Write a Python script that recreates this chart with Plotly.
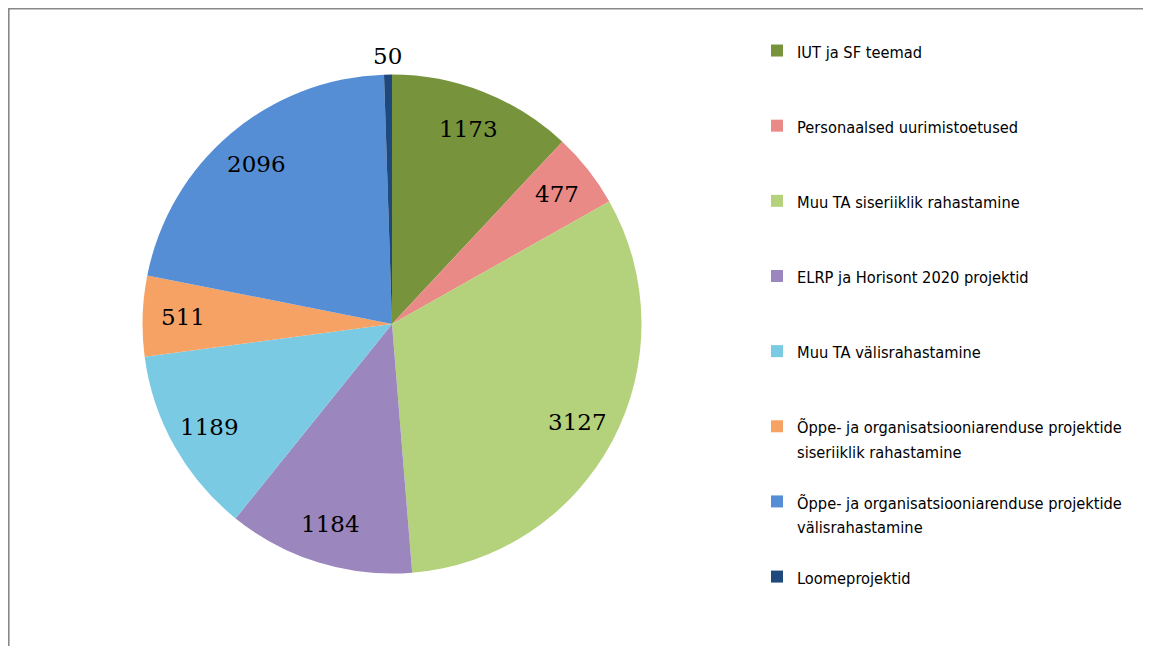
import numpy as np
import plotly.graph_objects as go

labels = [
    "IUT ja SF teemad",
    "Personaalsed uurimistoetused",
    "Muu TA siseriiklik rahastamine",
    "ELRP ja Horisont 2020 projektid",
    "Muu TA välisrahastamine",
    "Õppe- ja organisatsiooniarenduse projektide<br>siseriiklik rahastamine",
    "Õppe- ja organisatsiooniarenduse projektide<br>välisrahastamine",
    "Loomeprojektid",
]
values = [1173, 477, 3127, 1184, 1189, 511, 2096, 50]
colors = ["#77933C", "#EA8A87", "#B4D27B", "#9B86BE", "#7ACAE4", "#F7A265", "#558ED5", "#1F497D"]

W, H = 1151, 646
OFF = 8  # page body margin


def px_x(px):
    return (px - OFF) / W


def px_y(py):
    return 1 - (py - OFF) / H


# pie geometry (window pixels)
CX, CY, R = 392, 324, 249.5

# legend entries padded so every entry has the same height (Excel-like even spacing)
legend_names = []
for lab in labels:
    lines = lab.split("<br>")
    body = "<br>".join('<span style="font-size:16.3px">%s</span>' % ln for ln in lines)
    legend_names.append(body + "<br>&nbsp;" * (3 - len(lines)))

fig = go.Figure(go.Pie(
    labels=legend_names,
    values=values,
    textinfo="none",
    sort=False,
    direction="clockwise",
    rotation=0,
    marker=dict(colors=colors, line=dict(width=0)),
    domain=dict(x=[px_x(CX - R), px_x(CX + R)], y=[px_y(CY + R), px_y(CY - R)]),
    hoverinfo="label+value",
))

# data labels at slice mid-angles (Excel-style placement)
vals = np.array(values, dtype=float)
mids = (np.cumsum(vals) - vals / 2) / vals.sum() * 2 * np.pi
annotations = []
for v, a in zip(values, mids):
    r = R * (1.076 if v < 100 else 0.84)
    annotations.append(dict(
        x=px_x(CX) + r * np.sin(a) / W,
        y=px_y(CY) + r * np.cos(a) / H,
        xref="paper", yref="paper", text=str(v), showarrow=False,
        xanchor="center", yanchor="middle",
        font=dict(family="DejaVu Serif", size=23, color="#000000"),
    ))

fig.update_layout(
    width=W, height=H,
    margin=dict(l=0, r=0, t=0, b=0),
    paper_bgcolor="#FFFFFF",
    plot_bgcolor="#FFFFFF",
    showlegend=True,
    legend=dict(
        x=px_x(757), y=px_y(32), xanchor="left", yanchor="top",
        valign="top",
        font=dict(family="DejaVu Sans Condensed, sans-serif", size=18.5, color="#000000"),
        bgcolor="rgba(0,0,0,0)",
        itemclick=False, itemdoubleclick=False,
    ),
    annotations=annotations,
    shapes=[dict(
        type="rect", xref="paper", yref="paper",
        x0=px_x(8.8), x1=1.2, y0=-0.2, y1=px_y(8.8),
        line=dict(color="#888888", width=1.6), fillcolor="rgba(0,0,0,0)", layer="below",
    )],
)

fig.write_html("out.html")
